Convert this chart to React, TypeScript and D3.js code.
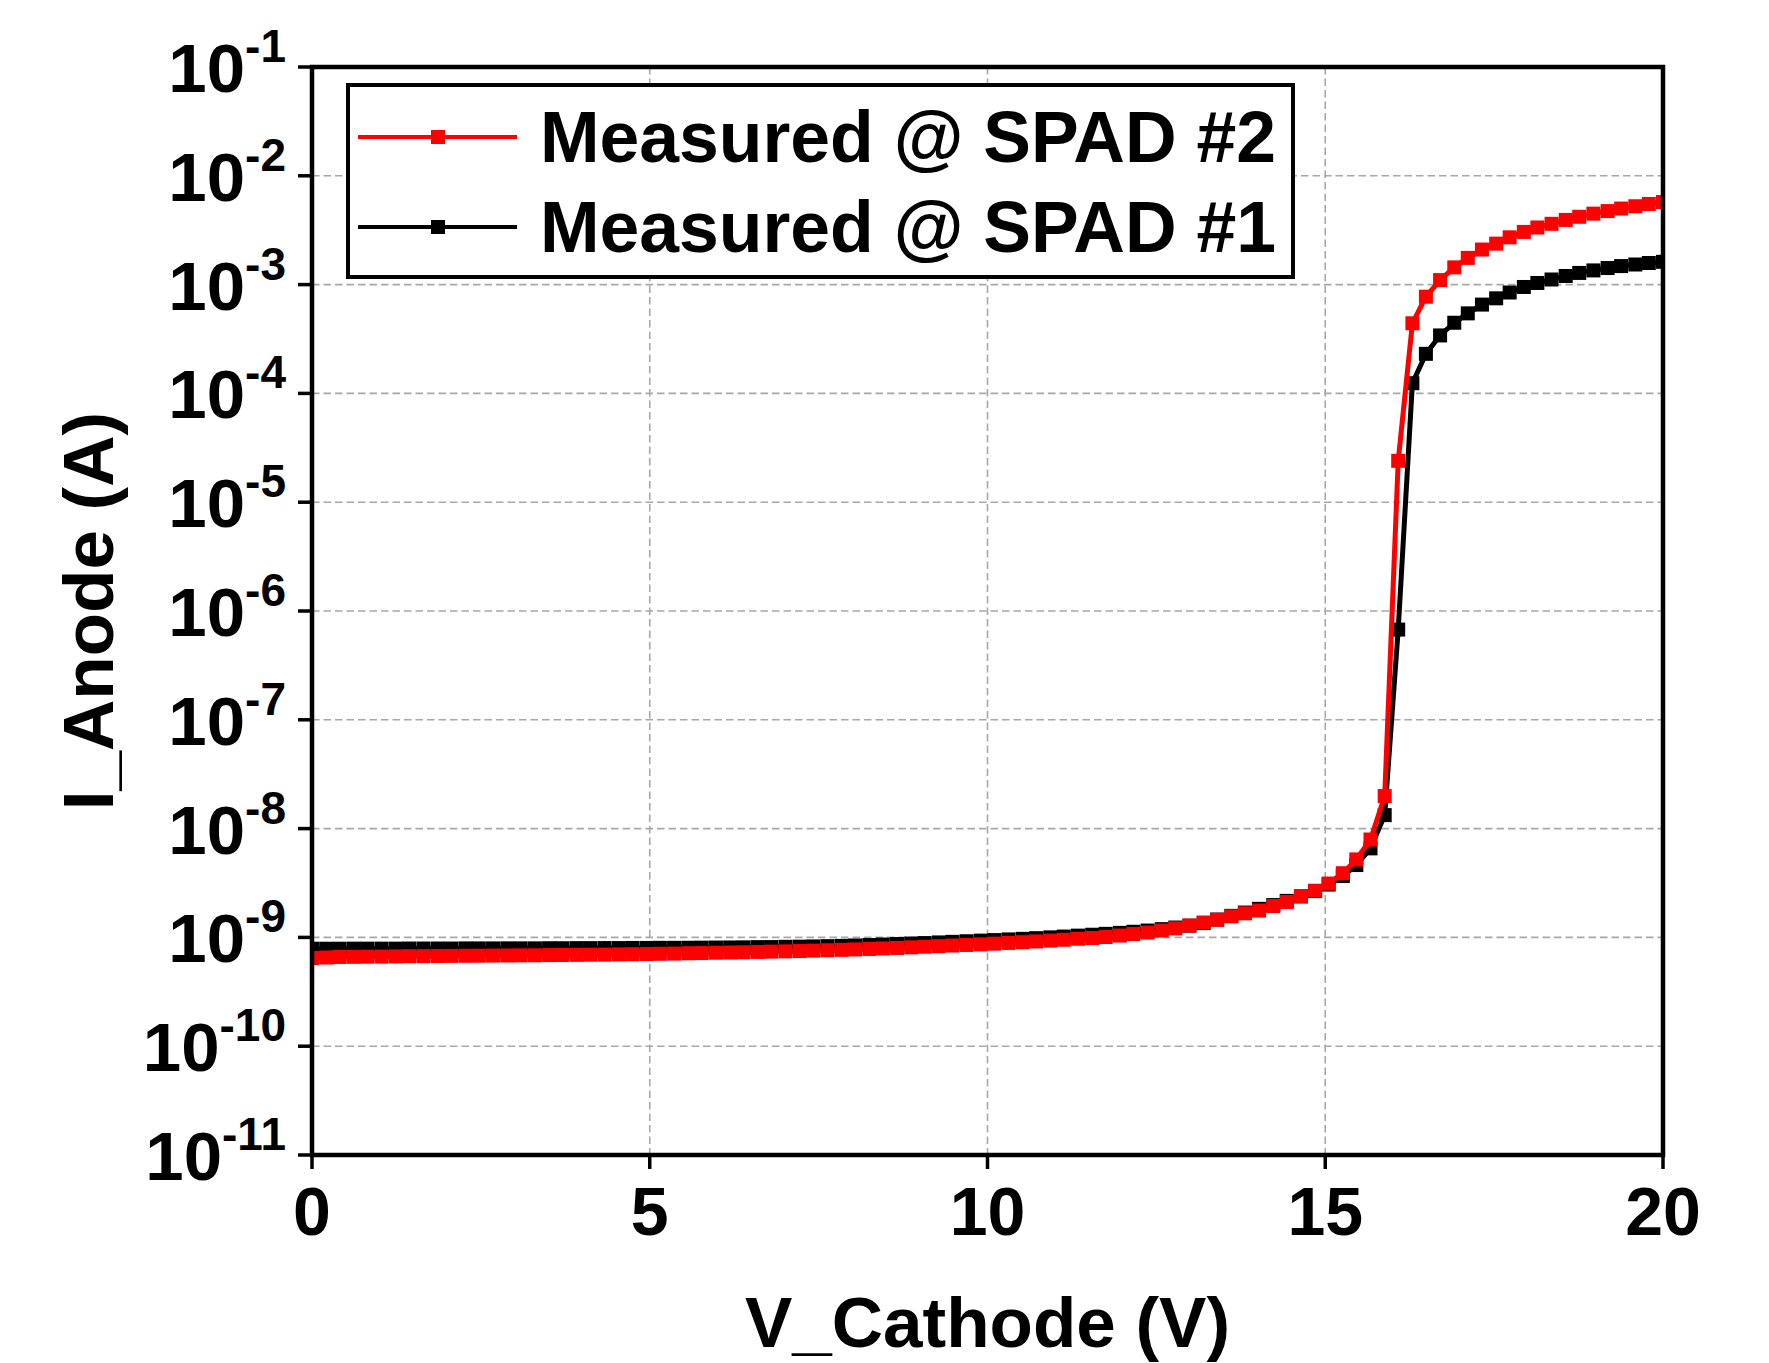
import { useRef, useEffect } from "react";
import * as d3 from "d3";

// Cathode sweep (V) - 98 points from 0 to 20 V
const voltage = [
  0, 0.21, 0.41, 0.62, 0.82, 1.03, 1.24, 1.44, 1.65, 1.86, 2.06, 2.27, 2.47, 2.68, 2.89, 3.09, 3.3, 3.51, 3.71, 3.92,
  4.12, 4.33, 4.54, 4.74, 4.95, 5.15, 5.36, 5.57, 5.77, 5.98, 6.19, 6.39, 6.6, 6.8, 7.01, 7.22, 7.42, 7.63, 7.84, 8.04,
  8.25, 8.45, 8.66, 8.87, 9.07, 9.28, 9.48, 9.69, 9.9, 10.1, 10.31, 10.52, 10.72, 10.93, 11.13, 11.34, 11.55, 11.75,
  11.96, 12.16, 12.37, 12.58, 12.78, 12.99, 13.2, 13.4, 13.61, 13.81, 14.02, 14.23, 14.43, 14.64, 14.85, 15.05, 15.26,
  15.46, 15.67, 15.88, 16.08, 16.29, 16.49, 16.7, 16.91, 17.11, 17.32, 17.53, 17.73, 17.94, 18.14, 18.35, 18.56, 18.76,
  18.97, 19.18, 19.38, 19.59, 19.79, 20,
];

// Anode current (A), SPAD #2 (red)
const currentSpad2 = [
  6.46e-10, 6.53e-10, 6.61e-10, 6.63e-10, 6.65e-10, 6.66e-10, 6.69e-10, 6.72e-10, 6.73e-10, 6.75e-10,
  6.76e-10, 6.78e-10, 6.79e-10, 6.81e-10, 6.82e-10, 6.84e-10, 6.85e-10, 6.88e-10, 6.89e-10, 6.91e-10,
  6.94e-10, 6.95e-10, 6.98e-10, 7.01e-10, 7.04e-10, 7.07e-10, 7.1e-10, 7.15e-10, 7.18e-10, 7.23e-10,
  7.26e-10, 7.3e-10, 7.35e-10, 7.4e-10, 7.44e-10, 7.49e-10, 7.56e-10, 7.62e-10, 7.68e-10, 7.75e-10,
  7.83e-10, 7.92e-10, 8.0e-10, 8.1e-10, 8.21e-10, 8.31e-10, 8.42e-10, 8.52e-10, 8.63e-10, 8.76e-10,
  8.89e-10, 9.03e-10, 9.18e-10, 9.34e-10, 9.52e-10, 9.72e-10, 9.87e-10, 1.008e-9, 1.04e-9, 1.074e-9,
  1.108e-9, 1.156e-9, 1.211e-9, 1.285e-9, 1.37e-9, 1.453e-9, 1.562e-9, 1.664e-9, 1.766e-9, 1.942e-9,
  2.114e-9, 2.385e-9, 2.685e-9, 3.127e-9, 3.89e-9, 5.21e-9, 7.94e-9, 1.99e-8, 2.4e-5, 4.41e-4,
  7.74e-4, 1.1e-3, 1.44e-3, 1.76e-3, 2.1e-3, 2.38e-3, 2.72e-3, 3.05e-3, 3.35e-3, 3.62e-3,
  3.93e-3, 4.2e-3, 4.49e-3, 4.74e-3, 5.0e-3, 5.25e-3, 5.51e-3, 5.74e-3,
];

// Anode current (A), SPAD #1 (black)
const currentSpad1 = [
  7.87e-10, 7.87e-10, 7.87e-10, 7.88e-10, 7.88e-10, 7.88e-10, 7.88e-10, 7.9e-10, 7.9e-10, 7.9e-10,
  7.9e-10, 7.92e-10, 7.92e-10, 7.92e-10, 7.93e-10, 7.93e-10, 7.93e-10, 7.95e-10, 7.95e-10, 7.97e-10,
  7.97e-10, 7.98e-10, 7.98e-10, 8.0e-10, 8.0e-10, 8.02e-10, 8.02e-10, 8.03e-10, 8.05e-10, 8.07e-10,
  8.08e-10, 8.1e-10, 8.14e-10, 8.15e-10, 8.19e-10, 8.22e-10, 8.26e-10, 8.31e-10, 8.36e-10, 8.43e-10,
  8.51e-10, 8.6e-10, 8.69e-10, 8.78e-10, 8.87e-10, 8.99e-10, 9.1e-10, 9.22e-10, 9.34e-10, 9.45e-10,
  9.58e-10, 9.7e-10, 9.84e-10, 1.001e-9, 1.018e-9, 1.038e-9, 1.058e-9, 1.078e-9, 1.101e-9, 1.127e-9,
  1.156e-9, 1.191e-9, 1.232e-9, 1.282e-9, 1.355e-9, 1.459e-9, 1.578e-9, 1.692e-9, 1.83e-9, 1.983e-9,
  2.167e-9, 2.384e-9, 2.667e-9, 3.06e-9, 3.664e-9, 4.624e-9, 6.58e-9, 1.33e-8, 6.75e-7, 1.24e-4,
  2.31e-4, 3.41e-4, 4.46e-4, 5.44e-4, 6.55e-4, 7.48e-4, 8.46e-4, 9.51e-4, 1.035e-3, 1.114e-3,
  1.2e-3, 1.28e-3, 1.35e-3, 1.42e-3, 1.48e-3, 1.53e-3, 1.58e-3, 1.62e-3,
];

const xTicks = [0, 5, 10, 15, 20];
const yExponents = [-11, -10, -9, -8, -7, -6, -5, -4, -3, -2, -1];

const seriesList = [
  { name: "Measured @ SPAD #1", color: "#000000", values: currentSpad1 },
  { name: "Measured @ SPAD #2", color: "#ff0000", values: currentSpad2 },
];
const legendOrder = ["Measured @ SPAD #2", "Measured @ SPAD #1"];

const WIDTH = 1769;
const HEIGHT = 1363;
const margin = { top: 67, right: 106, bottom: 208, left: 312 };
const FONT = "'Liberation Sans', Arial, sans-serif";

const IVChart = () => {
  const svgRef = useRef<SVGSVGElement>(null);

  useEffect(() => {
    const svg = d3.select(svgRef.current);
    svg.selectAll("*").remove();

    const left = margin.left;
    const right = WIDTH - margin.right;
    const top = margin.top;
    const bottom = HEIGHT - margin.bottom;

    const xScale = d3.scaleLinear().domain([0, 20]).range([left, right]);
    const yScale = d3.scaleLog().domain([1e-11, 1e-1]).range([bottom, top]);

    svg.append("rect").attr("width", WIDTH).attr("height", HEIGHT).attr("fill", "#ffffff");

    svg
      .append("defs")
      .append("clipPath")
      .attr("id", "plot-clip")
      .append("rect")
      .attr("x", left)
      .attr("y", top)
      .attr("width", right - left)
      .attr("height", bottom - top);

    // Grid lines
    const grid = svg.append("g").attr("stroke", "#a8a8a8").attr("stroke-width", 1.6).attr("stroke-dasharray", "7.5,4");
    grid
      .selectAll(".grid-x")
      .data(xTicks.slice(1, -1))
      .enter()
      .append("line")
      .attr("x1", (d) => xScale(d))
      .attr("x2", (d) => xScale(d))
      .attr("y1", top)
      .attr("y2", bottom);
    grid
      .selectAll(".grid-y")
      .data(yExponents.slice(1, -1))
      .enter()
      .append("line")
      .attr("x1", left)
      .attr("x2", right)
      .attr("y1", (d) => yScale(Math.pow(10, d)))
      .attr("y2", (d) => yScale(Math.pow(10, d)));

    // Series (black first, red on top)
    const plot = svg.append("g").attr("clip-path", "url(#plot-clip)");
    const line = d3
      .line<number>()
      .x((_, i) => xScale(voltage[i]))
      .y((d) => yScale(d));

    seriesList.forEach((s) => {
      const g = plot.append("g");
      g.append("path")
        .datum(s.values)
        .attr("fill", "none")
        .attr("stroke", s.color)
        .attr("stroke-width", 5)
        .attr("stroke-linejoin", "round")
        .attr("d", line);
      g.selectAll("rect")
        .data(s.values)
        .enter()
        .append("rect")
        .attr("x", (_, i) => xScale(voltage[i]) - 7)
        .attr("y", (d) => yScale(d) - 7)
        .attr("width", 14)
        .attr("height", 14)
        .attr("fill", s.color);
    });

    // Frame
    svg
      .append("rect")
      .attr("x", left)
      .attr("y", top)
      .attr("width", right - left)
      .attr("height", bottom - top)
      .attr("fill", "none")
      .attr("stroke", "#000")
      .attr("stroke-width", 4.5);

    // Y ticks + labels
    const yAxis = svg.append("g");
    yAxis
      .selectAll("line")
      .data(yExponents)
      .enter()
      .append("line")
      .attr("x1", left - 14)
      .attr("x2", left)
      .attr("y1", (d) => yScale(Math.pow(10, d)))
      .attr("y2", (d) => yScale(Math.pow(10, d)))
      .attr("stroke", "#000")
      .attr("stroke-width", 3.5);

    const yLabels = yAxis
      .selectAll("text")
      .data(yExponents)
      .enter()
      .append("text")
      .attr("x", 286)
      .attr("y", (d) => yScale(Math.pow(10, d)) + 25)
      .attr("text-anchor", "end")
      .attr("font-family", FONT)
      .attr("font-weight", "bold")
      .attr("fill", "#000");
    yLabels.append("tspan").attr("font-size", 69).text("10");
    yLabels
      .append("tspan")
      .attr("font-size", 46)
      .attr("dy", -30)
      .text((d) => `-${Math.abs(d)}`);

    // X ticks + labels
    const xAxis = svg.append("g");
    xAxis
      .selectAll("line")
      .data(xTicks)
      .enter()
      .append("line")
      .attr("x1", (d) => xScale(d))
      .attr("x2", (d) => xScale(d))
      .attr("y1", bottom)
      .attr("y2", bottom + 14)
      .attr("stroke", "#000")
      .attr("stroke-width", 3.5);
    xAxis
      .selectAll("text")
      .data(xTicks)
      .enter()
      .append("text")
      .attr("x", (d) => xScale(d))
      .attr("y", 1235)
      .attr("text-anchor", "middle")
      .attr("font-family", FONT)
      .attr("font-weight", "bold")
      .attr("font-size", 68)
      .text((d) => d);

    // Axis titles
    svg
      .append("text")
      .attr("x", (left + right) / 2)
      .attr("y", 1347)
      .attr("text-anchor", "middle")
      .attr("font-family", FONT)
      .attr("font-weight", "bold")
      .attr("font-size", 71)
      .text("V_Cathode (V)");
    svg
      .append("text")
      .attr("transform", `translate(113,${(top + bottom) / 2}) rotate(-90)`)
      .attr("text-anchor", "middle")
      .attr("font-family", FONT)
      .attr("font-weight", "bold")
      .attr("font-size", 71)
      .text("I_Anode (A)");

    // Legend
    const legend = svg.append("g");
    legend
      .append("rect")
      .attr("x", 348)
      .attr("y", 85)
      .attr("width", 945)
      .attr("height", 192)
      .attr("fill", "#ffffff")
      .attr("stroke", "#000")
      .attr("stroke-width", 4);
    legendOrder.forEach((name, i) => {
      const s = seriesList.find((d) => d.name === name)!;
      const cy = 137 + i * 90;
      legend
        .append("line")
        .attr("x1", 358)
        .attr("x2", 517)
        .attr("y1", cy)
        .attr("y2", cy)
        .attr("stroke", s.color)
        .attr("stroke-width", 4);
      legend
        .append("rect")
        .attr("x", 431)
        .attr("y", cy - 7)
        .attr("width", 14)
        .attr("height", 14)
        .attr("fill", s.color);
      legend
        .append("text")
        .attr("x", 540)
        .attr("y", cy + 25)
        .attr("font-family", FONT)
        .attr("font-weight", "bold")
        .attr("font-size", 71.5)
        .text(name);
    });
  }, []);

  return (
    <div style={{ position: "absolute", left: 0, top: 0 }}>
      <svg ref={svgRef} width={WIDTH} height={HEIGHT}></svg>
    </div>
  );
};

export default function App() {
  return <IVChart />;
}
